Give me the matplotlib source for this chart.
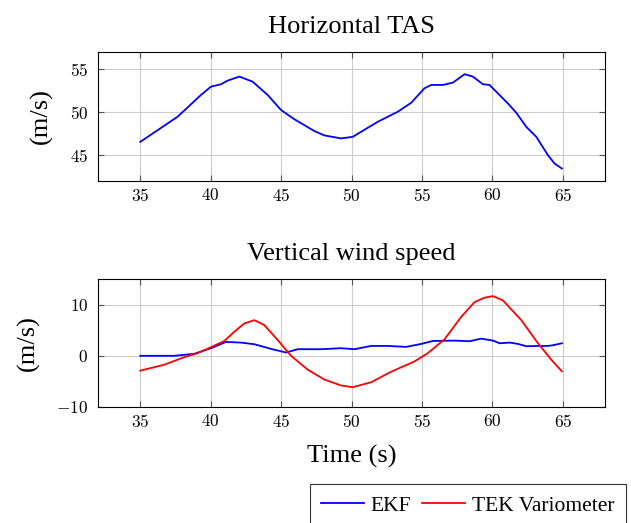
import matplotlib
matplotlib.use("Agg")
import matplotlib.pyplot as plt
from matplotlib.ticker import FuncFormatter
import numpy as np

plt.rcParams['font.family'] = ['Liberation Serif', 'DejaVu Serif']
plt.rcParams['mathtext.fontset'] = 'cm'

## donnees
t_tas = [35, 37.65, 39.31, 40.02, 40.73, 41.2, 42.04, 42.98, 44.05, 45.0, 45.95,
         47.37, 48.08, 49.26, 50.09, 51.87, 53.29, 54.24, 55.18, 55.66, 56.49,
         57.2, 58.03, 58.62, 59.33, 59.8, 61.1, 61.7, 62.41, 63.12, 63.95,
         64.42, 64.94]
tas = [46.55, 49.47, 52.0, 52.97, 53.25, 53.67, 54.14, 53.55, 52.0, 50.25, 49.17,
       47.8, 47.3, 46.95, 47.14, 48.89, 50.06, 51.1, 52.78, 53.17, 53.17,
       53.44, 54.42, 54.14, 53.25, 53.17, 51.03, 49.94, 48.3, 47.14, 45.0,
       44.03, 43.45]

t_ekf = [35, 37.42, 38.84, 40.02, 41.09, 42.15, 43.1, 44.29, 45.35, 46.18, 47.84,
         49.26, 50.21, 51.4, 52.58, 53.88, 54.95, 55.78, 57.32, 58.38, 59.21,
         60.04, 60.52, 61.23, 61.82, 62.41, 63.24, 63.95, 64.3, 64.94]
w_ekf = [0, 0, 0.39, 1.48, 2.71, 2.58, 2.26, 1.35, 0.64, 1.29, 1.29,
         1.48, 1.29, 1.93, 1.93, 1.74, 2.32, 2.9, 2.97, 2.84, 3.35,
         2.97, 2.45, 2.58, 2.32, 1.87, 1.93, 1.93, 2.06, 2.45]

t_tek = [35, 36.71, 38.13, 39.07, 40.02, 40.97, 41.68, 42.39, 43.1, 43.81, 44.76,
         45.71, 46.89, 48.08, 49.26, 50.09, 51.4, 52.82, 54.47, 55.42, 56.61,
         57.79, 58.74, 59.45, 60.04, 60.75, 62.06, 63.24, 64.19, 64.94]
w_tek = [-2.9, -1.74, -0.26, 0.52, 1.68, 2.9, 4.7, 6.32, 6.96, 6.0, 3.09,
         0, -2.71, -4.64, -5.8, -6.13, -5.16, -3.1, -1.1, 0.52, 3.23,
         7.6, 10.5, 11.35, 11.66, 10.83, 6.96, 2.45, -0.77, -3.03]

xticks = [35, 40, 45, 50, 55, 60, 65]

fig = plt.figure(figsize=(6.31, 5.23), dpi=100)
ax1 = fig.add_axes([98/631, 1 - 181/523, 507/631, 129/523])
ax2 = fig.add_axes([98/631, 1 - 407/523, 507/631, 128/523])

ax1.plot(t_tas, tas, color='blue', lw=1.3)
ax2.plot(t_ekf, w_ekf, color='blue', lw=1.3, label='EKF')
ax2.plot(t_tek, w_tek, color='red', lw=1.3, label='TEK Variometer')

fmt = FuncFormatter(lambda v, p: f'${v:g}$')
for ax in (ax1, ax2):
    ax.set_xlim(32, 68)
    ax.set_xticks(xticks)
    ax.grid(True, color='#cccccc', lw=0.8)
    ax.tick_params(direction='in', top=True, right=True, length=4,
                   color='#555555', labelsize=12.5, pad=7)
    ax.tick_params(axis='x', pad=5)
    ax.xaxis.set_major_formatter(fmt)
    ax.yaxis.set_major_formatter(fmt)
    ax.set_ylabel("(m/s)", fontsize=19, labelpad=12)
    for s in ax.spines.values():
        s.set_linewidth(0.8)

ax1.set_ylim(42, 57)
ax1.set_yticks([45, 50, 55])
ax1.set_title("Horizontal TAS", fontsize=19, pad=14)

ax2.set_ylim(-10, 15)
ax2.set_yticks([-10, 0, 10])
ax2.set_title("Vertical wind speed", fontsize=19, pad=14)
ax2.set_xlabel("Time (s)", fontsize=19, labelpad=10)

leg = fig.legend(*ax2.get_legend_handles_labels(), ncol=2, fontsize=15.5,
                 loc='upper right', bbox_to_anchor=(626/631, 1 - 484/523),
                 fancybox=False, edgecolor='#333333', framealpha=1,
                 handlelength=2.0, columnspacing=0.5, handletextpad=0.3,
                 borderpad=0.55, borderaxespad=0)
leg.get_frame().set_linewidth(0.8)

fig.savefig("out.png", dpi=100)
